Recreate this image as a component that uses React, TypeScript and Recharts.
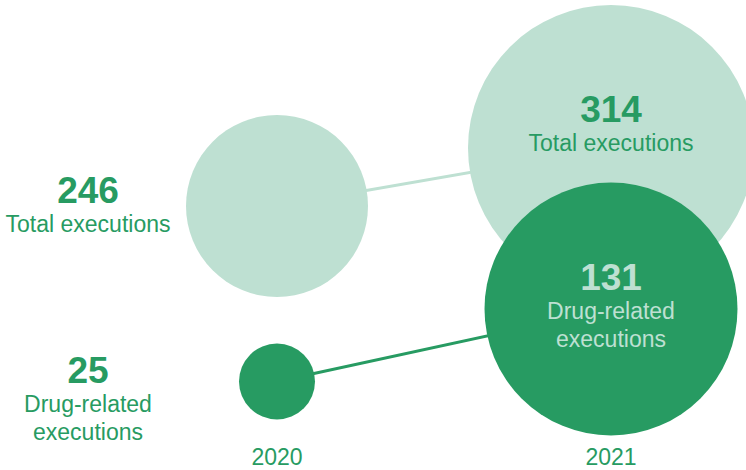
import { ScatterChart, Scatter, XAxis, YAxis, ZAxis } from "recharts";

// executions: total vs drug-related, two years
const years = [2020, 2021];
const totalExecutions = [246, 314];
const drugExecutions = [25, 131];
const totalLabel = ["Total executions"];
const drugLabel = ["Drug-related", "executions"];

const DARK = "#279b62";
const LIGHT = "#bee0d2";
const FONT = '"Liberation Sans", Arial, Helvetica, sans-serif';

const totalData = years.map((year, i) => ({ year, value: totalExecutions[i] }));
const drugData = years.map((year, i) => ({ year, value: drugExecutions[i] }));

const area = (r: number) => Math.PI * r * r;

function BubbleLabel({
  x,
  y,
  value,
  lines,
  color,
}: {
  x: number;
  y: number;
  value: number;
  lines: string[];
  color: string;
}) {
  return (
    <g fontFamily={FONT} fill={color} textAnchor="middle">
      <text x={x} y={y} fontSize={37} fontWeight="bold">
        {value}
      </text>
      {lines.map((line, i) => (
        <text key={line} x={x} y={y + 28.5 + i * 28} fontSize={23}>
          {line}
        </text>
      ))}
    </g>
  );
}

function TotalBubble(props: any) {
  const { cx, cy, width, payload } = props;
  const first = payload.year === years[0];
  return (
    <g>
      <circle cx={cx} cy={cy} r={width / 2} fill={LIGHT} />
      <BubbleLabel
        x={first ? cx - 189 : cx}
        y={first ? cy - 3 : cy - 26}
        value={payload.value}
        lines={totalLabel}
        color={DARK}
      />
    </g>
  );
}

function DrugBubble(props: any) {
  const { cx, cy, width, payload } = props;
  const first = payload.year === years[0];
  return (
    <g>
      <circle cx={cx} cy={cy} r={width / 2} fill={DARK} />
      <BubbleLabel
        x={first ? cx - 189 : cx}
        y={first ? cy + 1.5 : cy - 19}
        value={payload.value}
        lines={drugLabel}
        color={first ? DARK : LIGHT}
      />
    </g>
  );
}

export default function App() {
  return (
    <div style={{ position: "absolute", left: 0, top: 0, width: 746, height: 470, background: "#fff" }}>
      <ScatterChart width={746} height={470} margin={{ top: 0, right: 0, bottom: 0, left: 0 }}>
        <XAxis
          dataKey="year"
          type="number"
          domain={[years[0], years[years.length - 1]]}
          ticks={years}
          padding={{ left: 277, right: 135 }}
          axisLine={false}
          tickLine={false}
          tickSize={0}
          tickMargin={9}
          height={30}
          interval={0}
          tick={{ fill: DARK, fontSize: 23, fontFamily: FONT }}
        />
        <YAxis
          yAxisId="total"
          dataKey="value"
          type="number"
          hide
          domain={[Math.min(...totalExecutions), Math.max(...totalExecutions)]}
          padding={{ top: 148, bottom: 234 }}
        />
        <YAxis
          yAxisId="drug"
          dataKey="value"
          type="number"
          hide
          domain={[Math.min(...drugExecutions), Math.max(...drugExecutions)]}
          padding={{ top: 309, bottom: 58.5 }}
        />
        <ZAxis
          zAxisId="total"
          dataKey="value"
          type="number"
          domain={[Math.min(...totalExecutions), Math.max(...totalExecutions)]}
          range={[area(91), area(143)]}
        />
        <ZAxis
          zAxisId="drug"
          dataKey="value"
          type="number"
          domain={[Math.min(...drugExecutions), Math.max(...drugExecutions)]}
          range={[area(38), area(126.5)]}
        />
        <Scatter
          data={totalData}
          yAxisId="total"
          zAxisId="total"
          fill={LIGHT}
          line={{ stroke: LIGHT, strokeWidth: 3 }}
          shape={TotalBubble}
          isAnimationActive={false}
        />
        <Scatter
          data={drugData}
          yAxisId="drug"
          zAxisId="drug"
          fill={DARK}
          line={{ stroke: DARK, strokeWidth: 3 }}
          shape={DrugBubble}
          isAnimationActive={false}
        />
      </ScatterChart>
    </div>
  );
}
